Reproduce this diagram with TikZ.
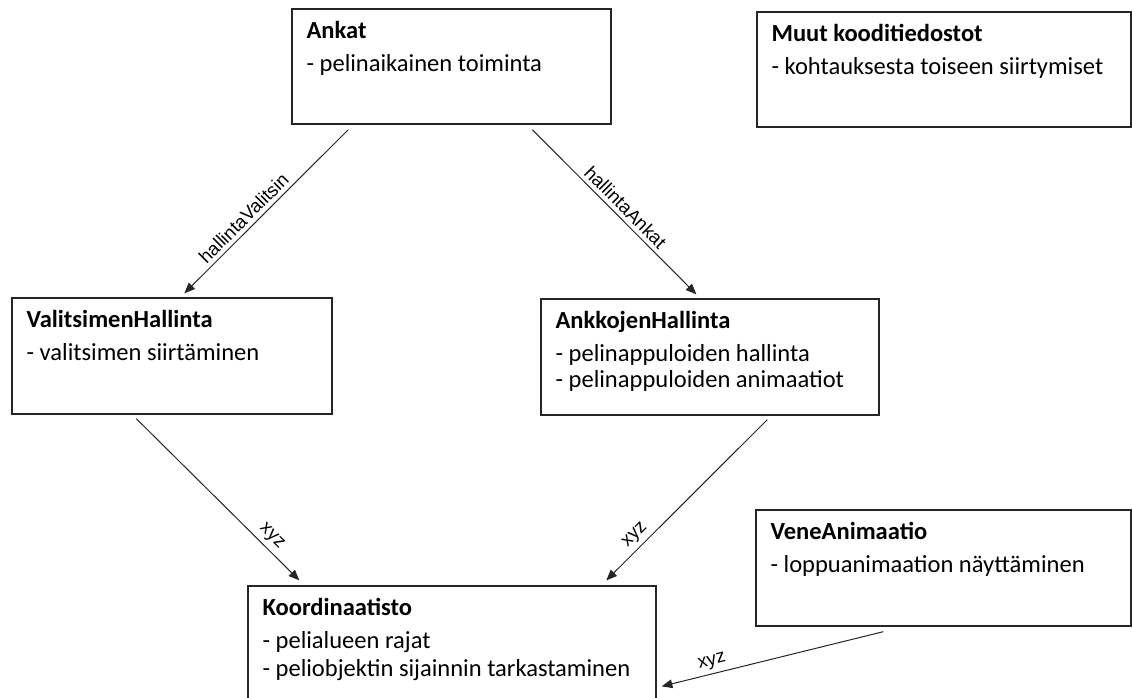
\documentclass[tikz,border=0pt]{standalone}
\usepackage{fontspec}
\setmainfont{Carlito}
\newfontfamily\edgefont{Liberation Sans}
\usetikzlibrary{arrows.meta,calc,fit}

\begin{document}
\begin{tikzpicture}[x=0.75pt,y=-0.75pt,
  box/.style={draw=black!85, line width=1pt, rectangle, inner sep=0pt, fill=white},
  title/.style={anchor=base west, inner sep=0pt, font=\fontsize{18.4}{21}\selectfont\bfseries},
  item/.style={anchor=base west, inner sep=0pt, font=\fontsize{18.4}{21}\selectfont},
  arr/.style={draw=black!85, line width=0.75pt, -{Triangle[length=8pt,width=6.5pt]}},
  elabel/.style={sloped, above, inner sep=3pt, font=\edgefont\fontsize{14}{16}\selectfont}]
  \useasboundingbox (0,0) rectangle (1132,697);
  \clip (0,0) rectangle (1132,697);
  \fill[white] (0,0) rectangle (1132,697);

  % class boxes
  \node[box, fit={(292,9) (611,124)}] (ankat) {};
  \node[box, fit={(757,12) (1131,127)}] (muut) {};
  \node[box, fit={(12,298) (332,414)}] (valitsin) {};
  \node[box, fit={(541,299) (879,415)}] (ankkojen) {};
  \node[box, fit={(248,586) (656,730)}] (koord) {};
  \node[box, fit={(756,510) (1131,626)}] (vene) {};

  % box contents
  \node[title] (ankatT) at ($(ankat.north west)+(15,30)$) {Ankat};
  \node[item] (ankatA) at ($(ankat.north west)+(15,63)$) {- pelinaikainen toiminta};

  \node[title] (muutT) at ($(muut.north west)+(15,30)$) {Muut kooditiedostot};
  \node[item] (muutA) at ($(muut.north west)+(15,63)$) {- kohtauksesta toiseen siirtymiset};

  \node[title] (valitsinT) at ($(valitsin.north west)+(15,30)$) {ValitsimenHallinta};
  \node[item] (valitsinA) at ($(valitsin.north west)+(15,63)$) {- valitsimen siirtäminen};

  \node[title] (ankkojenT) at ($(ankkojen.north west)+(15,30)$) {AnkkojenHallinta};
  \node[item] (ankkojenA) at ($(ankkojen.north west)+(15,63)$) {- pelinappuloiden hallinta};
  \node[item] (ankkojenB) at ($(ankkojen.north west)+(15,89)$) {- pelinappuloiden animaatiot};

  \node[title] (koordT) at ($(koord.north west)+(15,30)$) {Koordinaatisto};
  \node[item] (koordA) at ($(koord.north west)+(15,63)$) {- pelialueen rajat};
  \node[item] (koordB) at ($(koord.north west)+(15,91)$) {- peliobjektin sijainnin tarkastaminen};

  \node[title] (veneT) at ($(vene.north west)+(15,30)$) {VeneAnimaatio};
  \node[item] (veneA) at ($(vene.north west)+(15,63)$) {- loppuanimaation näyttäminen};

  % connector end points, just off the box borders
  \coordinate (a1) at ($(ankat.south west)+(57,5)$);
  \coordinate (v1) at ($(valitsin.north west)+(173,-4)$);
  \coordinate (a2) at ($(ankat.south west)+(241,5)$);
  \coordinate (h1) at ($(ankkojen.north west)+(156,-4)$);
  \coordinate (v2) at ($(valitsin.south west)+(125,4)$);
  \coordinate (k1) at ($(koord.north west)+(52,-5)$);
  \coordinate (h2) at ($(ankkojen.south west)+(227,4)$);
  \coordinate (k2) at ($(koord.north west)+(359,-5)$);
  \coordinate (w1) at ($(vene.south west)+(128,5)$);
  \coordinate (k3) at ($(koord.north east)+(5,101)$);

  % connectors
  \draw[arr] (a1) -- node[elabel, pos=0.59] {hallintaValitsin} (v1);
  \draw[arr] (a2) -- node[elabel, pos=0.52] {hallintaAnkat} (h1);
  \draw[arr] (v2) -- node[elabel, pos=0.78] {xyz} (k1);
  \draw[arr] (h2) -- node[elabel, pos=0.77] {xyz} (k2);
  \draw[arr] (w1) -- node[elabel, pos=0.76] {xyz} (k3);
\end{tikzpicture}
\end{document}
